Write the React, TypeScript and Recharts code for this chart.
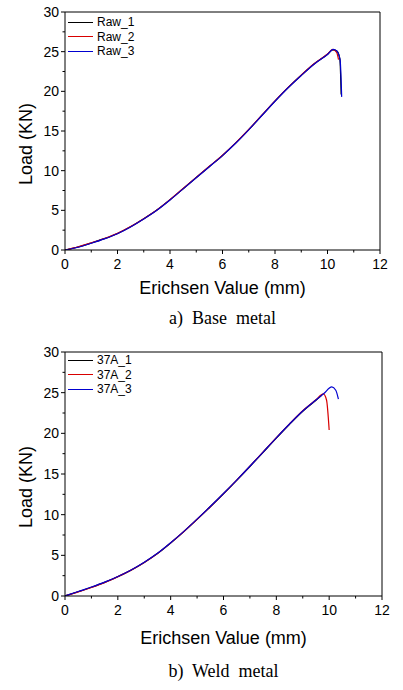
import React from "react";
import { LineChart, Line, XAxis, YAxis, ReferenceLine } from "recharts";

// ---- Data ----
// a) Base metal
const raw1X = [0, 0.5, 1, 1.5, 2, 2.5, 3, 3.5, 4, 4.5, 5, 5.5, 6, 6.5, 7, 7.5, 8, 8.5, 9, 9.5, 10, 10.2, 10.35, 10.47, 10.52];
const raw1Y = [0, 0.38, 0.88, 1.43, 2.08, 2.93, 3.93, 5.03, 6.33, 7.73, 9.13, 10.52, 11.92, 13.47, 15.17, 16.97, 18.77, 20.47, 22.02, 23.47, 24.67, 25.22, 25.1, 24.1, 19.6];
const raw2X = [0, 0.5, 1, 1.5, 2, 2.5, 3, 3.5, 4, 4.5, 5, 5.5, 6, 6.5, 7, 7.5, 8, 8.5, 9, 9.5, 10, 10.2, 10.35, 10.42];
const raw2Y = [0, 0.4, 0.9, 1.45, 2.1, 2.95, 3.95, 5.05, 6.35, 7.75, 9.15, 10.55, 11.95, 13.5, 15.2, 17.0, 18.8, 20.5, 22.05, 23.5, 24.7, 25.3, 24.9, 24.0];
const raw3X = [0, 0.5, 1, 1.5, 2, 2.5, 3, 3.5, 4, 4.5, 5, 5.5, 6, 6.5, 7, 7.5, 8, 8.5, 9, 9.5, 10, 10.22, 10.35, 10.48, 10.54];
const raw3Y = [0, 0.35, 0.85, 1.4, 2.05, 2.9, 3.9, 5.0, 6.3, 7.7, 9.1, 10.5, 11.9, 13.45, 15.15, 16.95, 18.75, 20.45, 22.0, 23.45, 24.65, 25.3, 25.1, 24.0, 19.3];

// b) Weld metal
const a1X = [0, 0.5, 1, 1.5, 2, 2.5, 3, 3.5, 4, 4.5, 5, 5.5, 6, 6.5, 7, 7.5, 8, 8.5, 9, 9.5, 9.72];
const a1Y = [0, 0.52, 1.07, 1.67, 2.37, 3.17, 4.12, 5.22, 6.52, 7.92, 9.42, 10.97, 12.57, 14.22, 15.92, 17.67, 19.42, 21.12, 22.72, 24.07, 24.7];
const a2X = [0, 0.5, 1, 1.5, 2, 2.5, 3, 3.5, 4, 4.5, 5, 5.5, 6, 6.5, 7, 7.5, 8, 8.5, 9, 9.5, 9.78, 9.9, 10.0];
const a2Y = [0, 0.5, 1.05, 1.65, 2.38, 3.18, 4.13, 5.23, 6.53, 7.93, 9.43, 10.98, 12.58, 14.25, 15.97, 17.72, 19.47, 21.17, 22.77, 24.12, 24.85, 24.1, 20.4];
const a3X = [0, 0.5, 1, 1.5, 2, 2.5, 3, 3.5, 4, 4.5, 5, 5.5, 6, 6.5, 7, 7.5, 8, 8.5, 9, 9.5, 9.8, 10.1, 10.25, 10.35];
const a3Y = [0, 0.55, 1.1, 1.7, 2.4, 3.2, 4.15, 5.25, 6.55, 7.95, 9.45, 11.0, 12.6, 14.25, 15.95, 17.7, 19.45, 21.15, 22.75, 24.1, 24.9, 25.7, 25.3, 24.2];

const baseNames = ["Raw_1", "Raw_2", "Raw_3"];
const weldNames = ["37A_1", "37A_2", "37A_3"];
const seriesColors = ["#000000", "#d80000", "#0000d0"];

const xTicks = [0, 1, 2, 3, 4, 5, 6, 7, 8, 9, 10, 11, 12];
const yTicks = [0, 2.5, 5, 7.5, 10, 12.5, 15, 17.5, 20, 22.5, 25, 27.5, 30];

const zip = (xs: number[], ys: number[]) => xs.map((x, i) => ({ x, y: ys[i] }));

const SANS = "'Liberation Sans', Arial, sans-serif";
const SERIF = "'Liberation Serif', 'Times New Roman', serif";

const XTick = (props: any) => {
  const { x, y, payload } = props;
  const v = payload.value;
  const major = v % 2 === 0;
  return (
    <g>
      <line x1={x} x2={x} y1={y} y2={y + (major ? 4 : 2.5)} stroke="#000" strokeWidth={1} />
      {major && (
        <text x={x} y={y + 19} textAnchor="middle" fontSize={14} fontFamily={SANS} fill="#000">
          {v}
        </text>
      )}
    </g>
  );
};

const YTick = (props: any) => {
  const { x, y, payload } = props;
  const v = payload.value;
  const major = v % 5 === 0;
  return (
    <g>
      <line x1={x - (major ? 4 : 2.5)} x2={x} y1={y} y2={y} stroke="#000" strokeWidth={1} />
      {major && (
        <text x={x - 6} y={y + 5} textAnchor="end" fontSize={14} fontFamily={SANS} fill="#000">
          {v}
        </text>
      )}
    </g>
  );
};

type PanelProps = {
  top: number;
  height: number;
  marginRight: number;
  plotHeight: number;
  series: { name: string; data: { x: number; y: number }[]; color: string }[];
  legendTop: number;
  titleTop: number;
  caption: string;
  captionTop: number;
  yTitleCenter: number;
};

const Panel = (p: PanelProps) => {
  const plotLeft = 65;
  const plotRight = 403 - p.marginRight;
  const xAxisHeight = p.height - 12 - p.plotHeight;
  return (
    <div style={{ position: "absolute", left: 0, top: p.top, width: 403, height: p.height }}>
      <LineChart width={403} height={p.height} margin={{ top: 12, right: p.marginRight, bottom: 0, left: 0 }}>
        <XAxis
          type="number"
          dataKey="x"
          domain={[0, 12]}
          ticks={xTicks}
          interval={0}
          tickSize={0}
          tickMargin={0}
          tickLine={false}
          tick={<XTick />}
          axisLine={{ stroke: "#000" }}
          height={xAxisHeight}
          allowDataOverflow
        />
        <YAxis
          type="number"
          domain={[0, 30]}
          ticks={yTicks}
          interval={0}
          tickSize={0}
          tickMargin={0}
          tickLine={false}
          tick={<YTick />}
          axisLine={{ stroke: "#000" }}
          width={65}
          allowDataOverflow
        />
        <ReferenceLine y={30} stroke="#000" strokeWidth={1} ifOverflow="extendDomain" />
        <ReferenceLine x={12} stroke="#000" strokeWidth={1} ifOverflow="extendDomain" />
        {p.series.map((s) => (
          <Line
            key={s.name}
            data={s.data}
            dataKey="y"
            name={s.name}
            type="monotone"
            stroke={s.color}
            strokeWidth={1.2}
            dot={false}
            activeDot={false}
            isAnimationActive={false}
          />
        ))}
      </LineChart>
      {/* legend */}
      <div style={{ position: "absolute", left: 68, top: p.legendTop, fontFamily: SANS, fontSize: 12 }}>
        {p.series.map((s) => (
          <div key={s.name} style={{ display: "flex", alignItems: "center", height: 14.5 }}>
            <div style={{ width: 25, height: 0, borderTop: `1.2px solid ${s.color}` }} />
            <span style={{ marginLeft: 4, lineHeight: "14px", color: "#000" }}>{s.name}</span>
          </div>
        ))}
      </div>
      {/* y axis title */}
      <div
        style={{
          position: "absolute",
          left: 26 - 60,
          top: p.yTitleCenter - 10,
          width: 120,
          height: 20,
          lineHeight: "20px",
          textAlign: "center",
          transform: "rotate(-90deg)",
          fontFamily: SANS,
          fontSize: 18,
          color: "#000",
        }}
      >
        Load (KN)
      </div>
      {/* x axis title */}
      <div
        style={{
          position: "absolute",
          left: plotLeft,
          width: plotRight - plotLeft,
          top: p.titleTop,
          lineHeight: "18px",
          textAlign: "center",
          fontFamily: SANS,
          fontSize: 18,
          color: "#000",
        }}
      >
        Erichsen Value (mm)
      </div>
      {/* caption */}
      <div
        style={{
          position: "absolute",
          left: plotLeft,
          width: plotRight - plotLeft,
          top: p.captionTop,
          lineHeight: "18px",
          textAlign: "center",
          fontFamily: SERIF,
          fontSize: 18,
          whiteSpace: "pre",
          color: "#000",
        }}
      >
        {p.caption}
      </div>
    </div>
  );
};

export default function App() {
  const baseSeries = [
    { name: baseNames[0], data: zip(raw1X, raw1Y), color: seriesColors[0] },
    { name: baseNames[1], data: zip(raw2X, raw2Y), color: seriesColors[1] },
    { name: baseNames[2], data: zip(raw3X, raw3Y), color: seriesColors[2] },
  ];
  const weldSeries = [
    { name: weldNames[0], data: zip(a1X, a1Y), color: seriesColors[0] },
    { name: weldNames[1], data: zip(a2X, a2Y), color: seriesColors[1] },
    { name: weldNames[2], data: zip(a3X, a3Y), color: seriesColors[2] },
  ];
  return (
    <div style={{ position: "absolute", left: 0, top: 0, width: 403, height: 690, background: "#fff" }}>
      <Panel
        top={0}
        height={340}
        marginRight={23}
        plotHeight={238}
        series={baseSeries}
        legendTop={15}
        titleTop={279}
        caption={"a)  Base  metal"}
        captionTop={309}
        yTitleCenter={144}
      />
      <Panel
        top={340}
        height={350}
        marginRight={21}
        plotHeight={244}
        series={weldSeries}
        legendTop={13}
        titleTop={289}
        caption={"b)  Weld  metal"}
        captionTop={322}
        yTitleCenter={147}
      />
    </div>
  );
}
